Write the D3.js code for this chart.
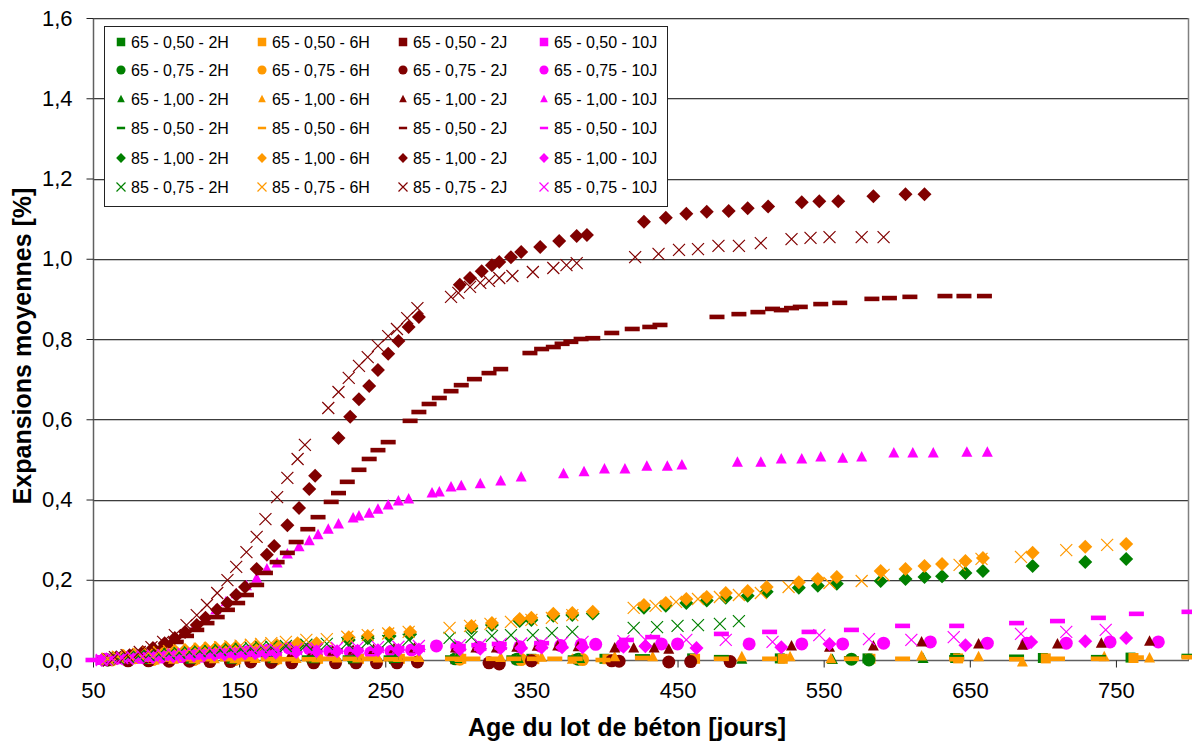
<!DOCTYPE html>
<html><head><meta charset="utf-8">
<script src="https://cdn.jsdelivr.net/npm/d3@7"></script>
<style>body{margin:0;background:#fff;} svg{display:block;font-family:Arial,"Liberation Sans",sans-serif;}</style>
</head><body><svg id="c" width="1192" height="742"></svg>
<script>
// ---------- data ----------
const xTicks = [50,150,250,350,450,550,650,750];
const yTicks = [0,0.2,0.4,0.6,0.8,1.0,1.2,1.4,1.6];
const yTickLabels = ["0,0","0,2","0,4","0,6","0,8","1,0","1,2","1,4","1,6"];
const rowLabels = ["65 - 0,50","65 - 0,75","65 - 1,00","85 - 0,50","85 - 1,00","85 - 0,75"];
const colLabels = ["2H","6H","2J","10J"];

// 65 - 0,50 (squares)
const d65_050_2H = [[62,0.001],[90,0.002],[118,0.002],[146,0.003],[174,0.003],[202,0.004],[230,0.004],[258,0.004],[300,0.004],[350,0.003],[400,0.003],[460,0.004],[520,0.004],[580,0.004],[640,0.005],[700,0.005],[760,0.006]];
const d65_050_6H = [[64,0.001],[92,0.001],[120,0.002],[148,0.002],[176,0.002],[204,0.003],[232,0.003],[260,0.003],[302,0.003],[352,0.002],[402,0.002],[462,0.003],[522,0.003],[582,0.003],[642,0.004],[702,0.004],[762,0.005]];
const d65_050_2J = [[60,0],[88,0.001],[116,0.001],[144,0.002],[172,0.002],[200,0.002],[228,0.002],[256,0.003],[298,0.002],[340,0.002],[382,0.002]];
const d65_050_10J = [[55,0],[62,0.001],[69,0.002],[76,0.002],[83,0.003],[90,0.003],[97,0.004],[104,0.004],[111,0.005],[118,0.005],[125,0.006],[132,0.006]];
// 65 - 0,75 (circles)
const d65_075_2H = [[60,0],[88,0.001],[116,0.001],[144,0.002],[172,0.002],[200,0.002],[228,0.003],[256,0.003],[298,0.003],[340,0.002],[382,0.002],[569,0.002],[581,0.0]];
const d65_075_6H = [[63,0],[91,0.001],[119,0.001],[147,0.001],[175,0.002],[203,0.002],[231,0.002],[259,0.002],[301,0.002],[343,0.001],[385,0.001]];
const d65_075_2J = [[60,0],[74,-0.002],[88,-0.002],[102,-0.003],[116,-0.003],[130,-0.004],[144,-0.004],[158,-0.005],[172,-0.006],[186,-0.007],[201,-0.007],[216,-0.007],[230,-0.007],[244,-0.007],[258,-0.007],[272,-0.005],[321,-0.007],[328,-0.01],[350,-0.002],[405,-0.002],[410,-0.003],[444,-0.005],[459,-0.004],[486,-0.004]];
const d65_075_10J = [[58,0.002],[65,0.004],[72,0.006],[79,0.008],[86,0.01],[93,0.012],[100,0.013],[107,0.014],[114,0.015],[121,0.016],[128,0.017],[135,0.018],[142,0.019],[149,0.02],[156,0.021],[163,0.022],[170,0.025],[184,0.03],[198,0.028],[212,0.022],[226,0.02],[240,0.018],[254,0.022],[268,0.025],[285,0.035],[299,0.032],[314,0.032],[328,0.032],[342,0.033],[356,0.035],[370,0.036],[384,0.038],[394,0.039],[412,0.037],[439,0.04],[450,0.04],[499,0.04],[535,0.04],[563,0.04],[591,0.042],[623,0.045],[662,0.042],[689,0.042],[716,0.042],[746,0.045],[779,0.045]];
// 65 - 1,00 (triangles)
const d65_100_2H = [[61,0],[89,0.001],[117,0.002],[145,0.002],[173,0.003],[201,0.003],[229,0.003],[257,0.004],[299,0.004],[341,0.004],[383,0.004],[494,0.002],[556,0.001],[618,0.004]];
const d65_100_6H = [[63,0],[77,0.001],[91,0.002],[105,0.002],[119,0.003],[133,0.003],[147,0.003],[161,0.004],[175,0.004],[189,0.004],[203,0.005],[217,0.005],[231,0.005],[245,0.005],[259,0.006],[273,0.006],[301,0.006],[329,0.006],[357,0.007],[378,0.002],[407,0.008],[433,0.008],[494,0.008],[527,0.008],[555,0.003],[617,0.01],[656,0.008],[686,-0.005],[742,0.008],[773,0.005]];
const d65_100_2J = [[60,0],[74,0.002],[88,0.004],[102,0.006],[116,0.008],[130,0.01],[144,0.012],[158,0.014],[172,0.016],[186,0.018],[200,0.02],[214,0.022],[228,0.024],[242,0.026],[256,0.028],[270,0.03],[298,0.03],[312,0.03],[326,0.03],[340,0.032],[354,0.034],[368,0.035],[382,0.033],[407,0.03],[420,0.03],[434,0.03],[444,0.027],[528,0.035],[554,0.032],[584,0.035],[617,0.045],[656,0.04],[686,0.037],[710,0.04],[740,0.042],[773,0.047]];
const d65_100_10J = [[57,0],[64,0.003],[71,0.007],[78,0.012],[85,0.02],[92,0.03],[99,0.04],[106,0.052],[113,0.068],[120,0.085],[127,0.105],[134,0.125],[141,0.145],[148,0.165],[155,0.185],[162,0.204],[169,0.227],[176,0.242],[183,0.264],[191,0.282],[198,0.297],[204,0.312],[211,0.326],[218,0.339],[228,0.354],[232,0.359],[239,0.366],[245,0.376],[252,0.386],[259,0.396],[266,0.401],[282,0.416],[287,0.419],[295,0.431],[302,0.434],[315,0.439],[329,0.446],[343,0.456],[372,0.464],[386,0.469],[400,0.476],[414,0.476],[429,0.483],[443,0.483],[453,0.486],[491,0.493],[507,0.493],[521,0.501],[535,0.501],[548,0.506],[563,0.503],[576,0.506],[598,0.516],[611,0.516],[625,0.516],[648,0.518],[662,0.518]];
// 85 - 0,50 (dashes)
const d85_050_2H = [[58,0.002],[86,0.003],[114,0.004],[142,0.005],[170,0.005],[198,0.006],[226,0.006],[254,0.006],[296,0.006],[338,0.006],[380,0.006],[426,0.009],[480,0.007],[569,0.004],[641,0.007],[682,0.008],[738,0.007],[800,0.01]];
const d85_050_6H = [[58,0],[72,0.001],[86,0.001],[100,0.001],[114,0.002],[128,0.002],[142,0.002],[156,0.002],[170,0.002],[184,0.002],[198,0.002],[212,0.003],[226,0.003],[240,0.003],[254,0.002],[268,0.003],[296,0.003],[310,0.003],[324,0.003],[338,0.003],[352,0.003],[366,0.003],[380,0.003],[399,0.0],[426,0.005],[480,0.003],[513,0.003],[569,0.003],[604,0.003],[641,0.002],[682,0.002],[710,0.003],[738,0.003],[764,0.006],[800,0.007]];
const d85_050_2J = [[58,0],[65,0.004],[72,0.008],[79,0.012],[86,0.018],[93,0.025],[100,0.035],[107,0.045],[114,0.06],[121,0.075],[128,0.092],[135,0.107],[142,0.125],[149,0.142],[155,0.162],[162,0.187],[168,0.217],[176,0.244],[183,0.267],[189,0.294],[197,0.326],[204,0.356],[213,0.394],[218,0.416],[224,0.444],[232,0.474],[239,0.501],[245,0.523],[252,0.543],[267,0.596],[273,0.618],[280,0.638],[287,0.653],[295,0.67],[302,0.685],[311,0.7],[321,0.715],[329,0.725],[349,0.765],[357,0.775],[365,0.78],[371,0.788],[377,0.793],[384,0.8],[392,0.802],[405,0.815],[419,0.825],[431,0.83],[438,0.835],[477,0.855],[492,0.862],[505,0.867],[515,0.875],[521,0.872],[528,0.877],[534,0.88],[548,0.887],[561,0.89],[583,0.9],[595,0.902],[609,0.905],[633,0.907],[646,0.907],[660,0.907]];
const d85_050_10J = [[50,0],[62,0.002],[69,0.003],[76,0.004],[83,0.005],[90,0.006],[97,0.007],[104,0.008],[111,0.009],[118,0.01],[125,0.011],[132,0.012],[139,0.013],[146,0.014],[153,0.015],[160,0.016],[167,0.017],[174,0.018],[188,0.02],[202,0.022],[216,0.024],[230,0.026],[244,0.028],[258,0.03],[272,0.032],[300,0.035],[314,0.037],[328,0.04],[357,0.042],[415,0.05],[433,0.057],[480,0.065],[513,0.07],[540,0.07],[569,0.075],[604,0.085],[641,0.085],[682,0.092],[710,0.097],[738,0.105],[764,0.115],[800,0.12]];
// 85 - 1,00 (diamonds)
const d85_100_2H = [[64,0.004],[71,0.008],[78,0.011],[85,0.014],[92,0.016],[99,0.018],[106,0.02],[113,0.022],[120,0.024],[127,0.025],[134,0.026],[141,0.027],[148,0.028],[162,0.03],[176,0.033],[190,0.037],[203,0.04],[225,0.05],[238,0.054],[253,0.06],[267,0.064],[309,0.08],[323,0.087],[342,0.097],[350,0.1],[365,0.11],[378,0.112],[392,0.116],[427,0.13],[442,0.135],[456,0.142],[470,0.148],[483,0.155],[498,0.16],[511,0.17],[533,0.18],[546,0.185],[559,0.19],[589,0.197],[606,0.202],[619,0.207],[631,0.209],[647,0.217],[659,0.222],[693,0.234],[729,0.244],[757,0.252]];
const d85_100_6H = [[64,0.005],[71,0.01],[78,0.013],[85,0.016],[92,0.019],[99,0.021],[106,0.023],[113,0.025],[120,0.027],[127,0.029],[134,0.03],[141,0.031],[148,0.032],[162,0.032],[176,0.037],[190,0.042],[203,0.042],[225,0.057],[238,0.06],[253,0.067],[267,0.07],[309,0.085],[323,0.092],[342,0.102],[350,0.105],[365,0.115],[378,0.117],[392,0.12],[427,0.137],[442,0.142],[456,0.152],[470,0.157],[483,0.167],[498,0.172],[511,0.182],[533,0.194],[546,0.202],[559,0.207],[589,0.222],[606,0.227],[619,0.234],[631,0.239],[647,0.247],[659,0.254],[693,0.267],[729,0.282],[757,0.289]];
const d85_100_2J = [[57,0],[66,0.007],[75,0.012],[84,0.02],[91,0.03],[99,0.042],[106,0.055],[113,0.07],[121,0.087],[127,0.105],[135,0.125],[142,0.142],[148,0.162],[154,0.182],[162,0.227],[169,0.262],[174,0.284],[183,0.336],[191,0.379],[198,0.426],[202,0.459],[218,0.553],[226,0.606],[232,0.65],[239,0.683],[245,0.723],[252,0.763],[259,0.795],[266,0.83],[273,0.855],[301,0.935],[308,0.952],[316,0.969],[323,0.984],[328,0.992],[336,1.004],[343,1.017],[356,1.029],[369,1.044],[381,1.057],[388,1.059],[427,1.092],[442,1.102],[456,1.112],[470,1.117],[485,1.119],[498,1.126],[512,1.13],[535,1.141],[547,1.143],[560,1.143],[584,1.156],[606,1.161],[619,1.161]];
const d85_100_10J = [[56,0],[63,0.002],[70,0.004],[77,0.005],[84,0.006],[91,0.007],[98,0.008],[105,0.009],[112,0.01],[119,0.011],[126,0.012],[133,0.013],[140,0.014],[147,0.015],[154,0.016],[161,0.017],[168,0.018],[175,0.019],[189,0.02],[203,0.022],[217,0.022],[231,0.023],[245,0.024],[259,0.025],[273,0.026],[301,0.027],[315,0.028],[329,0.03],[343,0.03],[357,0.031],[371,0.032],[385,0.032],[413,0.033],[428,0.034],[463,0.03],[521,0.032],[554,0.04],[647,0.037],[692,0.045],[729,0.047],[757,0.055]];
// 85 - 0,75 (crosses)
const d85_075_2H = [[60,0.002],[67,0.005],[74,0.008],[81,0.01],[88,0.012],[95,0.014],[102,0.016],[109,0.018],[116,0.02],[123,0.022],[130,0.023],[137,0.025],[144,0.027],[151,0.028],[158,0.03],[165,0.032],[172,0.033],[182,0.035],[196,0.038],[210,0.04],[224,0.042],[238,0.045],[252,0.047],[266,0.05],[294,0.055],[309,0.057],[323,0.06],[336,0.062],[351,0.062],[364,0.067],[378,0.07],[420,0.08],[436,0.082],[450,0.085],[464,0.087],[479,0.09],[492,0.097]];
const d85_075_6H = [[60,0.003],[67,0.008],[74,0.012],[81,0.015],[88,0.018],[95,0.02],[102,0.022],[109,0.024],[116,0.026],[123,0.028],[130,0.03],[137,0.032],[144,0.034],[151,0.036],[158,0.038],[165,0.04],[172,0.042],[182,0.045],[196,0.05],[210,0.052],[224,0.058],[238,0.062],[252,0.066],[266,0.07],[294,0.08],[308,0.085],[322,0.09],[336,0.095],[350,0.1],[364,0.105],[378,0.112],[420,0.13],[435,0.135],[449,0.145],[464,0.152],[479,0.157],[492,0.162],[507,0.167],[526,0.182],[554,0.192],[576,0.197],[591,0.212],[643,0.237],[658,0.252],[685,0.257],[716,0.274],[744,0.287]];
const d85_075_2J = [[65,0.007],[73,0.012],[82,0.02],[90,0.032],[98,0.045],[106,0.062],[114,0.087],[121,0.112],[128,0.137],[135,0.167],[142,0.199],[148,0.232],[155,0.269],[162,0.307],[168,0.351],[176,0.406],[183,0.454],[190,0.501],[195,0.536],[211,0.628],[218,0.668],[225,0.703],[232,0.733],[238,0.755],[245,0.783],[252,0.807],[258,0.825],[265,0.852],[272,0.877],[295,0.905],[300,0.915],[308,0.93],[315,0.94],[321,0.945],[328,0.952],[337,0.957],[351,0.967],[365,0.977],[374,0.984],[381,0.989],[421,1.004],[437,1.012],[451,1.022],[464,1.024],[478,1.032],[492,1.032],[507,1.039],[528,1.049],[541,1.052],[554,1.054],[576,1.054],[591,1.054]];
const d85_075_10J = [[56,0],[63,0.003],[70,0.005],[77,0.007],[84,0.009],[91,0.011],[98,0.012],[105,0.013],[112,0.015],[119,0.016],[126,0.017],[133,0.018],[140,0.02],[147,0.021],[154,0.022],[161,0.023],[168,0.024],[175,0.025],[189,0.027],[203,0.028],[217,0.03],[231,0.031],[245,0.032],[259,0.033],[273,0.035],[301,0.037],[315,0.038],[329,0.04],[343,0.041],[357,0.042],[371,0.043],[385,0.045],[413,0.047],[428,0.05],[456,0.05],[483,0.05],[515,0.045],[547,0.062],[581,0.052],[610,0.05],[639,0.057],[685,0.065],[716,0.07],[743,0.075]];

const seriesData = [
  [d65_050_2H, d65_050_6H, d65_050_2J, d65_050_10J],
  [d65_075_2H, d65_075_6H, d65_075_2J, d65_075_10J],
  [d65_100_2H, d65_100_6H, d65_100_2J, d65_100_10J],
  [d85_050_2H, d85_050_6H, d85_050_2J, d85_050_10J],
  [d85_100_2H, d85_100_6H, d85_100_2J, d85_100_10J],
  [d85_075_2H, d85_075_6H, d85_075_2J, d85_075_10J]
];
const rowShapes = ["square","circle","triangle","dash","diamond","cross"];
const colColors = ["#008000","#FF9900","#800000","#FF00FF"];

// ---------- chart ----------
const svg = d3.select("#c");
const W = 1192, H = 742;
const pLeft = 93, pRight = 1189, pTop = 18, pBottom = 660;
const x = d3.scaleLinear().domain([50,800]).range([pLeft,pRight]);
const y = d3.scaleLinear().domain([0,1.6]).range([pBottom,pTop]);

svg.append("rect").attr("width",W).attr("height",H).attr("fill","#fff");

// gridlines
const grid = svg.append("g");
yTicks.slice(1).forEach(t => {
  const yy = Math.round(y(t));
  grid.append("line").attr("x1",pLeft).attr("x2",pRight).attr("y1",yy+0.5).attr("y2",yy+0.5).attr("stroke","#3c3c3c").attr("stroke-width",1);
  grid.append("line").attr("x1",pLeft).attr("x2",pRight).attr("y1",yy+1.5).attr("y2",yy+1.5).attr("stroke","#c8c8c8").attr("stroke-width",1);
});
svg.append("line").attr("x1",pRight-0.5).attr("x2",pRight-0.5).attr("y1",pTop).attr("y2",pBottom).attr("stroke","#808080").attr("stroke-width",1.5);

// axes
const yAxis = d3.axisLeft(y).tickValues(yTicks).tickSize(7).tickFormat((d,i)=>yTickLabels[i]);
const gy = svg.append("g").attr("transform",`translate(${pLeft+0.5},0)`).call(yAxis);
gy.select(".domain").attr("stroke","#606060").attr("stroke-width",1.5).attr("d",`M0,${pTop}V${pBottom}`);
gy.selectAll(".tick line").attr("stroke","#222");
gy.selectAll(".tick text").attr("x",-21).attr("font-size",22).attr("fill","#000").attr("font-family","Arial, 'Liberation Sans', sans-serif");

const xAxis = d3.axisBottom(x).tickValues(xTicks).tickSize(7).tickFormat(d=>d);
const gx = svg.append("g").attr("transform",`translate(0,${pBottom+0.5})`).call(xAxis);
gx.select(".domain").attr("stroke","#606060").attr("stroke-width",1.5).attr("d",`M${pLeft},0H${pRight}`);
gx.selectAll(".tick line").attr("stroke","#222");
gx.selectAll(".tick text").attr("y",22).attr("font-size",22).attr("fill","#000").attr("font-family","Arial, 'Liberation Sans', sans-serif");

// markers
function drawMarker(g, shape, color, cx, cy, s) {
  switch(shape) {
    case "square":
      g.append("rect").attr("x",cx-5*s).attr("y",cy-5*s).attr("width",10*s).attr("height",10*s).attr("fill",color); break;
    case "circle":
      g.append("circle").attr("cx",cx).attr("cy",cy).attr("r",6.5*s).attr("fill",color); break;
    case "triangle":
      g.append("path").attr("d",`M${cx},${cy-6*s}L${cx+5.5*s},${cy+4.5*s}L${cx-5.5*s},${cy+4.5*s}Z`).attr("fill",color); break;
    case "dash":
      g.append("rect").attr("x",cx-7.5*s).attr("y",cy-2.3*s).attr("width",15*s).attr("height",4.6*s).attr("fill",color); break;
    case "diamond":
      g.append("path").attr("d",`M${cx},${cy-7*s}L${cx+7*s},${cy}L${cx},${cy+7*s}L${cx-7*s},${cy}Z`).attr("fill",color); break;
    case "cross":
      g.append("path").attr("d",`M${cx-6*s},${cy-6*s}L${cx+6*s},${cy+6*s}M${cx+6*s},${cy-6*s}L${cx-6*s},${cy+6*s}`).attr("stroke",color).attr("stroke-width",1.2).attr("fill","none"); break;
  }
}

const marks = svg.append("g");
seriesData.forEach((row, ri) => {
  row.forEach((data, ci) => {
    const g = marks.append("g");
    data.forEach(([d,v]) => drawMarker(g, rowShapes[ri], colColors[ci], x(d), y(v), 1));
  });
});

// legend
const lg = svg.append("g");
lg.append("rect").attr("x",104.5).attr("y",26.5).attr("width",563).attr("height",180).attr("fill","#fff").attr("stroke","#222").attr("stroke-width",1);
const colX = [121,262,403,544];
const rowY = [42,70,99,128,158,187];
const legendScale = [0.85,0.7,0.7,0.55,0.7,0.75];
rowLabels.forEach((rl, ri) => {
  colLabels.forEach((cl, ci) => {
    drawMarker(lg, rowShapes[ri], colColors[ci], colX[ci], rowY[ri], legendScale[ri]);
    lg.append("text").attr("x",colX[ci]+10).attr("y",rowY[ri]).attr("dy","0.35em")
      .attr("font-size",16).attr("fill","#000").text(`${rl} - ${cl}`);
  });
});

// axis titles
svg.append("text").attr("x",627).attr("y",736).attr("text-anchor","middle").attr("font-size",25).attr("font-weight","bold").text("Age du lot de béton [jours]");
svg.append("text").attr("transform","translate(31,346) rotate(-90)").attr("text-anchor","middle").attr("font-size",25).attr("font-weight","bold").text("Expansions moyennes [%]");
</script></body></html>
